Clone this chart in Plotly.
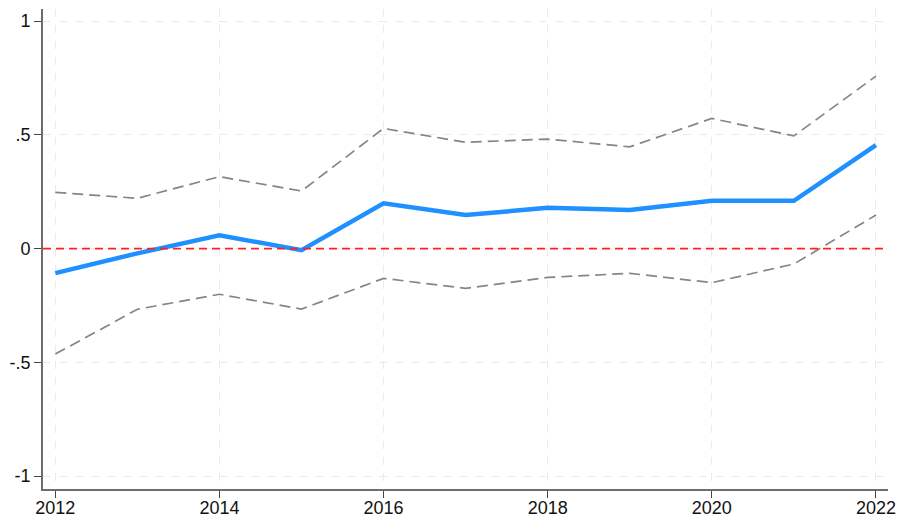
import plotly.graph_objects as go

years = [2012, 2013, 2014, 2015, 2016, 2017, 2018, 2019, 2020, 2021, 2022]
estimate = [-0.108, -0.021, 0.058, -0.007, 0.199, 0.147, 0.179, 0.169, 0.210, 0.210, 0.455]
upper_ci = [0.247, 0.221, 0.316, 0.253, 0.528, 0.467, 0.481, 0.447, 0.572, 0.495, 0.758]
lower_ci = [-0.464, -0.267, -0.201, -0.266, -0.131, -0.175, -0.127, -0.109, -0.150, -0.068, 0.147]

x_ticks = [2012, 2014, 2016, 2018, 2020, 2022]
y_tickvals = [-1, -0.5, 0, 0.5, 1]
y_ticktext = ["-1", "-.5", "0", ".5", "1"]

fig = go.Figure()
fig.add_trace(go.Scatter(x=years, y=upper_ci, mode="lines",
                         line=dict(color="#858585", width=1.7, dash="11px,6px"),
                         showlegend=False, hoverinfo="skip"))
fig.add_trace(go.Scatter(x=years, y=lower_ci, mode="lines",
                         line=dict(color="#858585", width=1.7, dash="11px,6px"),
                         showlegend=False, hoverinfo="skip"))
fig.add_shape(type="line", xref="paper", yref="y", x0=0, x1=1, y0=0, y1=0,
              line=dict(color="#ff2020", width=1.7, dash="8px,5px"), layer="above")
fig.add_trace(go.Scatter(x=years, y=estimate, mode="lines",
                         line=dict(color="#1e90ff", width=4.5),
                         showlegend=False))

grid = dict(showgrid=True, gridcolor="#ebebeb", gridwidth=1.2, griddash="8px,8px")
tfont = dict(family="Liberation Sans, Arial", size=18, color="#111111")
fig.update_xaxes(range=[2011.85, 2022.147], tickvals=x_ticks, ticks="outside",
                 ticklen=7, tickcolor="#444444", showline=True, linecolor="#6e6e6e",
                 linewidth=1.6, zeroline=False, automargin=False,
                 ticklabeloverflow="allow", ticklabelstandoff=-5,
                 tickfont=tfont, **grid)
fig.update_yaxes(range=[-1.057, 1.053], tickvals=y_tickvals, ticktext=y_ticktext,
                 ticks="outside", ticklen=7, tickcolor="#444444", showline=True,
                 linecolor="#6e6e6e", linewidth=1.6, zeroline=False, automargin=False,
                 ticklabeloverflow="allow",
                 tickfont=tfont, **grid)
fig.update_layout(width=898, height=518, margin=dict(l=43, r=10, t=9, b=29),
                  paper_bgcolor="white", plot_bgcolor="white")
fig.write_html("out.html", config={"displayModeBar": False},
               post_script="document.body.style.margin='0';document.body.style.overflow='hidden';")
